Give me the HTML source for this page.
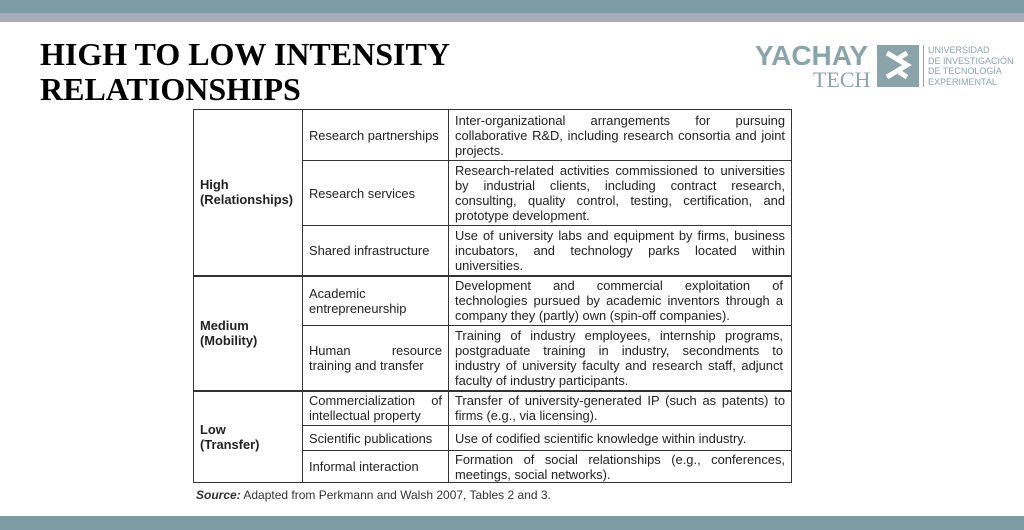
<!DOCTYPE html>
<html><head><meta charset="utf-8"><style>
body{margin:0;width:1024px;height:530px;position:relative;background:#fff;overflow:hidden;font-family:"Liberation Sans",sans-serif}
.bar1{position:absolute;left:0;top:0;width:1024px;height:13px;background:#7d9ca3}
.bar2{position:absolute;left:0;top:13px;width:1024px;height:9px;background:#a7adb8}
.bar3{position:absolute;left:0;top:516px;width:1024px;height:14px;background:#7d9ca3}
h1{position:absolute;left:40px;top:37px;margin:0;font-family:"Liberation Serif",serif;font-size:32px;line-height:35px;font-weight:bold;color:#000;white-space:nowrap}
table{position:absolute;left:193px;top:109px;width:599px;border-collapse:collapse;font-size:12.9px;line-height:15px;color:#222}
td{border:1px solid #333;padding:0 6px;vertical-align:middle}
td.d{text-align:justify;text-align-last:left}
td.w{padding-right:8px}
td.h{font-weight:bold}
.src{position:absolute;left:196px;top:488px;font-size:12px;color:#333}
</style></head><body>
<div class="bar1"></div>
<div class="bar2"></div>
<h1>HIGH TO LOW INTENSITY<br>RELATIONSHIPS</h1>
<div style="position:absolute;left:755px;top:42px;width:260px;height:50px">
<div style="position:absolute;left:0;top:-2px;font-weight:bold;font-size:28px;color:#8aa4aa">YACHAY</div>
<div style="position:absolute;left:58px;top:25px;font-family:'Liberation Serif',serif;font-size:22px;color:#8aa4aa">TECH</div>
<div style="position:absolute;left:122px;top:3px;width:42px;height:42px;background:#8aa4aa"><svg width="42" height="42"><path d="M10 8 L30 20 L10 32 M30 8 L22 13 M22 27 L30 32" stroke="#fff" stroke-width="5" fill="none"/></svg></div>
<div style="position:absolute;left:168px;top:3px;width:1px;height:42px;background:#8aa4aa"></div>
<div style="position:absolute;left:173px;top:3px;font-size:9px;line-height:10.5px;color:#8aa4aa;white-space:nowrap">UNIVERSIDAD<br>DE INVESTIGACIÓN<br>DE TECNOLOGÍA<br>EXPERIMENTAL</div>
</div>
<table>
<colgroup><col style="width:109px"><col style="width:146px"><col></colgroup>
<tr style="height:51px"><td class="h" rowspan="3" style="border-bottom-width:2px">High<br>(Relationships)</td><td>Research partnerships</td><td class="d">Inter-organizational arrangements for pursuing collaborative R&amp;D, including research consortia and joint projects.</td></tr>
<tr style="height:65px"><td>Research services</td><td class="d">Research-related activities commissioned to universities by industrial clients, including contract research, consulting, quality control, testing, certification, and prototype development.</td></tr>
<tr style="height:50px;border-bottom:2px solid #333"><td>Shared infrastructure</td><td class="d">Use of university labs and equipment by firms, business incubators, and technology parks located within universities.</td></tr>
<tr style="height:50px"><td class="h" rowspan="2">Medium<br>(Mobility)</td><td>Academic entrepreneurship</td><td class="d w">Development and commercial exploitation of technologies pursued by academic inventors through a company they (partly) own (spin-off companies).</td></tr>
<tr style="height:65px;border-bottom:2px solid #333"><td class="d">Human resource training and transfer</td><td class="d w">Training of industry employees, internship programs, postgraduate training in industry, secondments to industry of university faculty and research staff, adjunct faculty of industry participants.</td></tr>
<tr style="height:35px"><td class="h" rowspan="3">Low<br>(Transfer)</td><td class="d">Commercialization of intellectual property</td><td class="d">Transfer of university-generated IP (such as patents) to firms (e.g., via licensing).</td></tr>
<tr style="height:25px"><td>Scientific publications</td><td class="d">Use of codified scientific knowledge within industry.</td></tr>
<tr style="height:32px"><td>Informal interaction</td><td class="d">Formation of social relationships (e.g., conferences, meetings, social networks).</td></tr>
</table>
<div class="src"><b><i>Source:</i></b> Adapted from Perkmann and Walsh 2007, Tables 2 and 3.</div>
<div class="bar3"></div>
</body></html>
